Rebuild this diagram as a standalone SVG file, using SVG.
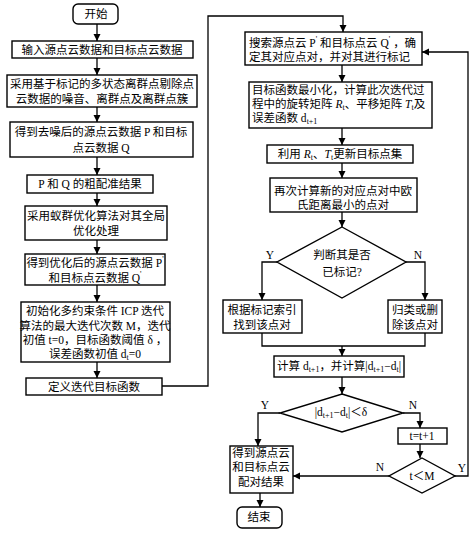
<svg xmlns="http://www.w3.org/2000/svg" width="474" height="533" viewBox="0 0 474 533">
<defs>
<marker id="ah" markerWidth="8" markerHeight="8" refX="7" refY="3.5" orient="auto" markerUnits="userSpaceOnUse">
<path d="M0,0 L7,3.5 L0,7 z" fill="#000"/>
</marker>
<style>
.b{fill:#fff;stroke:#000;stroke-width:1.4}
.t{font-family:"Liberation Serif","Noto Sans CJK SC",serif;font-size:11.5px;fill:#000;text-anchor:middle;dominant-baseline:central}
.l{text-anchor:start}
.c{fill:none;stroke:#000;stroke-width:1.3;marker-end:url(#ah)}
.n{fill:none;stroke:#000;stroke-width:1.3}
.s{font-size:8px}
</style>
</defs>
<rect width="474" height="533" fill="#fff"/>
<g id="connectors">
<path class="c" d="M97,24 V41"/>
<path class="c" d="M97,58 V75"/>
<path class="c" d="M97,107 V122"/>
<path class="c" d="M97,157 V175"/>
<path class="c" d="M97,193 V206"/>
<path class="c" d="M97,240 V254"/>
<path class="c" d="M97,285 V302"/>
<path class="c" d="M97,362 V378"/>
<path class="c" d="M162,386 H208 V16 H343 V32"/>
<path class="c" d="M342,65 V82"/>
<path class="c" d="M342,128 V145"/>
<path class="c" d="M342,163 V178"/>
<path class="c" d="M342,212 V227"/>
<path class="c" d="M277,262 H262 V300"/>
<path class="c" d="M406,262 H425 V300"/>
<path class="n" d="M262,333 V346 H425 V333"/>
<path class="c" d="M342,346 V356"/>
<path class="c" d="M342,377 V394"/>
<path class="c" d="M280,413 H258 V446"/>
<path class="c" d="M403,413 H420 V428"/>
<path class="c" d="M420,444 V458"/>
<path class="c" d="M389,476 H293"/>
<path class="c" d="M455,476 H468 V52 H422"/>
<path class="c" d="M260,493 V507"/>
</g>
<g id="start"><rect class="b" x="73" y="4" width="45" height="20" rx="5"/><text class="t" x="96" y="14">开始</text></g>
<g id="input"><rect class="b" x="12" y="41" width="181" height="17"/><text class="t" x="102" y="50">输入源点云数据和目标点云数据</text></g>
<g id="denoise"><rect class="b" x="7" y="75" width="190" height="32"/><text class="t" x="102" y="84">采用基于标记的多状态离群点剔除点</text><text class="t" x="102" y="99">云数据的噪音、离群点及离群点簇</text></g>
<g id="denoised"><rect class="b" x="10" y="122" width="183" height="35"/><text class="t" x="101" y="132">得到去噪后的源点云数据 P 和目标</text><text class="t" x="101" y="148">点云数据 Q</text></g>
<g id="coarse"><rect class="b" x="27" y="175" width="126" height="18"/><text class="t" x="90" y="184">P 和 Q 的粗配准结果</text></g>
<g id="aco"><rect class="b" x="25" y="206" width="142" height="34"/><text class="t" x="96" y="216">采用蚁群优化算法对其全局</text><text class="t" x="96" y="231">优化处理</text></g>
<g id="optimized"><rect class="b" x="25" y="254" width="140" height="31"/><text class="t" x="95" y="263">得到优化后的源点云数据 P<tspan class="s" dy="-4">'</tspan></text><text class="t" x="95" y="278">和目标点云数据 Q<tspan class="s" dy="-4">'</tspan></text></g>
<g id="init"><rect class="b" x="21" y="302" width="149" height="60"/><text class="t" x="95" y="311">初始化多约束条件 ICP 迭代</text><text class="t" x="95" y="326">算法的最大迭代次数 M，迭代</text><text class="t" x="95" y="340">初值 t=0，目标函数阈值 δ ，</text><text class="t" x="95" y="354">误差函数初值 d<tspan class="s" dy="3">t</tspan><tspan dy="-3">=0</tspan></text></g>
<g id="define"><rect class="b" x="26" y="378" width="136" height="17"/><text class="t" x="94" y="387">定义迭代目标函数</text></g>
<g id="search"><rect class="b" x="245" y="32" width="177" height="33"/><text class="t l" x="249" y="43">搜索源点云 P<tspan class="s" dy="-4">'</tspan><tspan dy="4"> 和目标点云 Q</tspan><tspan class="s" dy="-4">'</tspan><tspan dy="4"> ，确</tspan></text><text class="t l" x="249" y="57">定其对应点对，并对其进行标记</text></g>
<g id="minimize"><rect class="b" x="249" y="82" width="183" height="46"/><text class="t l" x="252" y="90">目标函数最小化，计算此次迭代过</text><text class="t l" x="252" y="104">程中的旋转矩阵 <tspan font-style="italic">R</tspan><tspan class="s" dy="3">t</tspan><tspan dy="-3">、平移矩阵 </tspan><tspan font-style="italic">T</tspan><tspan class="s" dy="3">t</tspan><tspan dy="-3">及</tspan></text><text class="t l" x="252" y="118">误差函数 d<tspan class="s" dy="3">t+1</tspan></text></g>
<g id="update"><rect class="b" x="267" y="145" width="146" height="18"/><text class="t" x="340" y="154">利用 <tspan font-style="italic">R</tspan><tspan class="s" dy="3">t</tspan><tspan dy="-3">、</tspan><tspan font-style="italic">T</tspan><tspan class="s" dy="3">t</tspan><tspan dy="-3">更新目标点集</tspan></text></g>
<g id="recalc"><rect class="b" x="270" y="178" width="147" height="34"/><text class="t" x="343" y="191">再次计算新的对应点对中欧</text><text class="t" x="343" y="205">氏距离最小的点对</text></g>
<g id="judge"><path class="b" d="M342,227 L406,262 L342,298 L277,262 z"/><text class="t" x="342" y="255">判断其是否</text><text class="t" x="342" y="272">已标记?</text><text class="t" x="270" y="255">Y</text><text class="t" x="418" y="255">N</text></g>
<g id="find"><rect class="b" x="223" y="300" width="79" height="33"/><text class="t" x="262" y="310">根据标记索引</text><text class="t" x="262" y="325">找到该点对</text></g>
<g id="classify"><rect class="b" x="388" y="300" width="54" height="33"/><text class="t" x="415" y="310">归类或删</text><text class="t" x="415" y="325">除该点对</text></g>
<g id="compute"><rect class="b" x="274" y="356" width="130" height="21"/><text class="t" x="339" y="366">计算 d<tspan class="s" dy="3">t+1</tspan><tspan dy="-3">，并计算|d</tspan><tspan class="s" dy="3">t+1</tspan><tspan dy="-3">−d</tspan><tspan class="s" dy="3">t</tspan><tspan dy="-3">|</tspan></text></g>
<g id="converge"><path class="b" d="M342,394 L403,413 L342,432 L280,413 z"/><text class="t" x="341" y="412">|d<tspan class="s" dy="3">t+1</tspan><tspan dy="-3">−d</tspan><tspan class="s" dy="3">t</tspan><tspan dy="-3">|＜δ</tspan></text><text class="t" x="265" y="405">Y</text><text class="t" x="413" y="405">N</text></g>
<g id="incr"><rect class="b" x="398" y="428" width="49" height="16"/><text class="t" x="422" y="436">t=t+1</text></g>
<g id="check"><path class="b" d="M422,458 L455,476 L422,493 L389,476 z"/><text class="t" x="422" y="476">t＜M</text><text class="t" x="380" y="467">N</text><text class="t" x="462" y="468">Y</text></g>
<g id="result"><rect class="b" x="230" y="446" width="63" height="47"/><text class="t" x="261" y="453">得到源点云</text><text class="t" x="261" y="467">和目标点云</text><text class="t" x="261" y="482">配对结果</text></g>
<g id="end"><rect class="b" x="237" y="507" width="45" height="21" rx="5"/><text class="t" x="259" y="517">结束</text></g>
</svg>
